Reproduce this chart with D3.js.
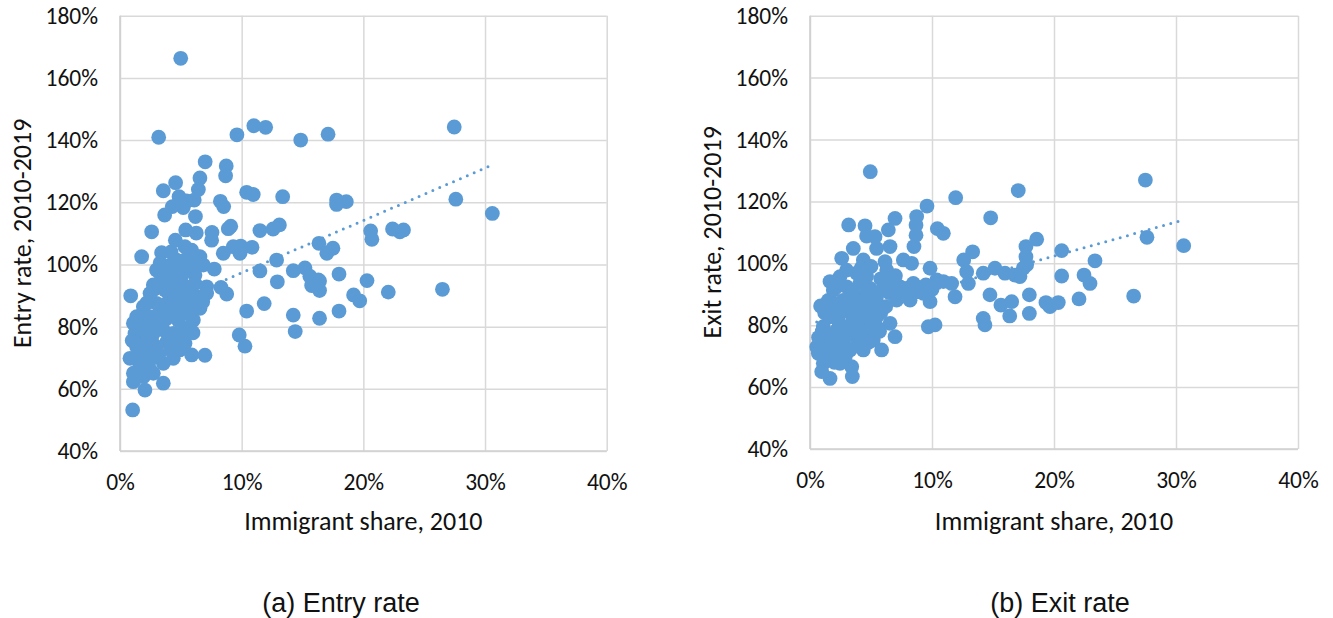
<!DOCTYPE html>
<html>
<head>
<meta charset="utf-8">
<script src="https://cdn.jsdelivr.net/npm/d3@7"></script>
<style>
  body { margin: 0; background: #fff; }
  svg { display: block; }
  .tick text { font-family: Carlito, Calibri, Lato, sans-serif; font-size: 23.5px; fill: #111; }
  .title { font-family: Carlito, Calibri, Lato, sans-serif; font-size: 26px; fill: #111; }
  .caption { font-family: "Liberation Sans", Arial, sans-serif; font-size: 27px; fill: #111; }
</style>
</head>
<body>
<div id="chart"></div>
<script>
// x ticks and y ticks (percent)
const xTicks = [0, 10, 20, 30, 40];
const yTicks = [40, 60, 80, 100, 120, 140, 160, 180];

// (a) entry rate vs immigrant share
const entryShare = [4.99, 3.18, 9.61, 11.0, 11.97, 14.85, 17.1, 27.47, 7.0, 8.73, 8.68, 6.57, 4.57, 3.56, 6.44,
  4.85, 5.48, 6.1, 4.3, 5.2, 8.25, 8.52, 10.41, 10.95, 13.37, 3.67, 6.2, 2.6, 5.4, 6.27, 7.56, 7.53, 8.9, 9.1,
  11.5, 12.58, 13.1, 4.55, 17.8, 17.8, 18.6, 27.6, 30.6, 20.6, 20.7, 22.4, 23.0, 23.3, 16.35, 17.5, 17.0, 15.2,
  15.6, 16.3, 15.75, 16.4, 18.0, 20.3, 22.05, 26.5, 19.2, 19.7, 18.0, 16.4, 14.4, 9.31, 9.92, 9.86, 10.85, 8.49,
  6.57, 12.87, 11.5, 7.75, 12.93, 14.24, 16.4, 14.24, 10.41, 11.85, 9.8, 10.27, 6.98, 8.3, 8.77, 6.57, 7.12,
  5.89, 5.34, 5.89, 6.35, 6.85, 3.0, 4.11, 4.66, 5.34, 5.75, 4.52, 5.2, 6.16, 3.97, 2.74, 3.29, 2.47, 3.7, 4.66,
  5.48, 6.16, 7.12, 6.57, 5.89, 0.88, 1.78, 3.42, 1.92, 3.0, 3.97, 4.93, 5.89, 6.57, 4.11, 5.2, 6.03, 3.29, 2.47,
  1.92, 1.37, 1.1, 1.23, 1.92, 2.74, 3.56, 4.38, 5.2, 5.75, 3.84, 4.66, 5.34, 3.0, 2.19, 1.37, 0.82, 1.64, 2.47,
  3.56, 4.38, 1.1, 1.92, 2.74, 3.56, 2.05, 1.1, 1.04, 2.2, 3.4, 4.8, 2.8, 1.6, 4.0, 5.0, 3.6, 5.5, 4.3, 2.6, 1.5,
  3.2, 4.2, 2.4, 2.3, 3.3, 4.5, 3.8, 2.1, 1.0, 5.0, 5.7, 6.8, 3.3, 4.2, 2.8, 6.0, 4.9, 1.6];
const entryRate = [166.3, 140.9, 141.7, 144.6, 144.1, 140.0, 141.9, 144.2, 133.0, 131.7, 128.5, 127.8, 126.3, 123.7,
  124.1, 121.8, 120.4, 120.7, 118.6, 118.3, 120.3, 118.6, 123.2, 122.5, 121.8, 115.9, 115.4, 110.5, 111.1, 110.1,
  110.3, 107.8, 111.5, 112.3, 110.9, 111.4, 112.7, 107.8, 120.7, 119.3, 120.2, 121.0, 116.4, 110.8, 108.1, 111.4,
  110.5, 111.1, 106.8, 105.2, 103.6, 98.9, 96.2, 95.0, 93.2, 91.6, 96.9, 94.8, 91.1, 92.0, 90.2, 88.3, 85.0, 82.7,
  78.4, 105.7, 105.9, 103.6, 105.5, 103.6, 102.5, 101.4, 97.9, 98.5, 94.4, 98.0, 94.7, 83.7, 85.0, 87.4, 77.3,
  73.7, 70.8, 92.6, 90.5, 86.4, 92.8, 70.9, 105.7, 104.6, 102.5, 99.8, 98.2, 99.8, 101.4, 101.4, 99.3, 97.1, 97.7,
  96.6, 95.0, 93.4, 94.4, 90.7, 91.8, 92.8, 92.8, 93.9, 90.7, 89.6, 90.7, 89.9, 102.5, 103.8, 86.4, 87.5, 88.0,
  87.5, 86.9, 85.9, 84.3, 84.3, 82.1, 84.3, 83.2, 82.1, 83.2, 81.1, 77.8, 76.8, 77.8, 78.9, 77.8, 78.4, 80.0, 75.1,
  74.6, 74.6, 73.5, 72.5, 73.5, 69.8, 68.2, 69.3, 68.2, 69.8, 65.0, 63.9, 65.0, 61.8, 59.6, 62.3, 53.2, 87.6, 80.5,
  82.0, 80.8, 79.8, 91.0, 95.5, 97.5, 88.8, 86.0, 75.5, 71.0, 71.2, 72.5, 66.5, 79.5, 86.0, 89.5, 82.5, 75.0, 75.5,
  91.5, 84.6, 88.0, 100.5, 104.0, 92.0, 78.0, 72.5, 66.5];
const entryTrend = [[0.8, 81.8], [30.6, 132.0]];

// (b) exit rate vs immigrant share
const exitShare = [4.94, 11.94, 17.07, 9.59, 3.17, 4.51, 4.64, 5.33, 6.42, 6.97, 8.74, 8.69, 8.69, 8.52, 10.44,
  10.93, 14.81, 3.55, 6.56, 5.46, 13.33, 0.87, 1.64, 2.6, 6.15, 6.29, 7.65, 8.33, 9.84, 12.6, 12.84, 12.98, 14.2,
  15.16, 15.98, 16.8, 14.75, 15.65, 16.53, 16.37, 14.2, 14.34, 9.7, 10.25, 9.84, 11.89, 11.61, 10.93, 8.2, 7.1,
  6.56, 6.97, 5.87, 4.37, 3.42, 3.47, 1.64, 0.96, 1.09, 0.55, 0.68, 1.09, 1.64, 2.46, 3.28, 4.1, 4.92, 5.46, 2.19,
  3.01, 3.83, 4.64, 5.46, 1.64, 2.73, 3.83, 4.92, 2.19, 3.28, 4.37, 1.09, 5.19, 1.37, 2.46, 1.91, 3.01, 4.1, 4.92,
  2.46, 3.83, 4.64, 3.28, 4.37, 5.46, 1.91, 6.29, 7.1, 7.93, 8.74, 9.29, 10.39, 4.37, 17.21, 17.76, 17.7, 17.7,
  18.58, 20.63, 20.63, 17.98, 17.98, 19.34, 19.67, 20.35, 7.38, 8.47, 27.49, 17.48, 23.36, 27.62, 30.63, 22.46,
  22.95, 26.53, 22.05, 6.0, 6.8, 7.6, 8.9, 9.5, 10.0, 7.0, 5.8, 6.5, 1.2, 1.5, 2.0, 2.7, 2.2, 3.5, 3.0, 4.2, 5.0,
  3.9, 4.6, 5.3, 5.8, 2.4, 3.5, 4.4, 1.0, 1.9, 2.9, 4.0, 5.0, 5.7, 2.5, 3.8, 1.5, 2.9, 2.0, 4.8, 6.2, 0.7];
const exitRate = [129.6, 121.2, 123.5, 118.5, 112.4, 112.1, 108.8, 108.6, 110.8, 114.5, 115.1, 112.4, 109.1, 105.4,
  111.2, 109.7, 114.7, 104.8, 105.4, 104.8, 103.7, 86.2, 94.1, 101.6, 100.5, 97.8, 101.1, 100.0, 98.4, 101.1, 97.3,
  93.5, 96.8, 98.4, 96.8, 96.2, 89.8, 86.5, 87.6, 83.0, 82.2, 80.1, 79.5, 80.1, 87.6, 89.2, 93.5, 94.1, 88.1, 88.1,
  80.6, 76.3, 72.0, 72.0, 66.6, 63.4, 62.8, 65.0, 67.7, 73.0, 70.9, 79.5, 82.7, 83.8, 84.9, 86.0, 84.9, 82.7, 78.4,
  79.5, 80.6, 80.6, 79.5, 75.2, 75.2, 76.3, 77.4, 70.9, 72.0, 74.2, 76.3, 75.2, 69.8, 67.7, 91.4, 92.4, 93.5, 91.9,
  95.7, 96.8, 95.7, 89.2, 89.2, 89.2, 87.1, 94.6, 93.0, 91.9, 90.8, 90.3, 94.6, 101.1, 95.7, 99.5, 102.1, 105.4,
  107.8, 104.1, 95.9, 89.8, 83.8, 87.3, 86.0, 87.3, 92.4, 93.5, 126.9, 98.4, 100.8, 108.4, 105.7, 96.2, 93.5, 89.4,
  88.5, 92.0, 93.5, 90.5, 92.2, 93.0, 91.5, 96.0, 95.0, 90.5, 84.0, 88.0, 86.0, 88.0, 92.5, 90.5, 97.8, 98.5, 99.0,
  87.5, 88.5, 86.5, 84.0, 80.5, 82.5, 83.5, 78.0, 77.0, 76.5, 79.0, 81.5, 78.0, 73.5, 73.5, 72.5, 70.0, 68.0, 74.5,
  86.0, 76.0];
const exitTrend = [[0.55, 81.0], [30.63, 114.0]];

const W = 1333, H = 618;
const blue = '#5b9bd5';
const grid = '#d9d9d9';

const panels = [
  { xs: entryShare, ys: entryRate, trend: entryTrend, yTitle: 'Entry rate, 2010-2019', caption: '(a) Entry rate',
    left: 120, right: 606.7, top: 15.7, bottom: 451, capX: 341 },
  { xs: exitShare, ys: exitRate, trend: exitTrend, yTitle: 'Exit rate, 2010-2019', caption: '(b) Exit rate',
    left: 810, right: 1298, top: 15.7, bottom: 449, capX: 1060 }
];

const svg = d3.select('#chart').append('svg')
  .attr('width', W)
  .attr('height', H);

panels.forEach(p => {
  const x = d3.scaleLinear().domain([0, 40]).range([p.left, p.right]);
  const y = d3.scaleLinear().domain([40, 180]).range([p.bottom, p.top]);
  const g = svg.append('g');

  // gridlines + labels
  const yAxis = g.append('g')
    .attr('transform', `translate(${p.left},0)`)
    .call(d3.axisLeft(y).tickValues(yTicks).tickSize(-(p.right - p.left)).tickPadding(22).tickFormat(d => d + '%'));
  const xAxis = g.append('g')
    .attr('transform', `translate(0,${p.bottom})`)
    .call(d3.axisBottom(x).tickValues(xTicks).tickSize(-(p.bottom - p.top)).tickPadding(31).tickFormat(d => d + '%'));
  [yAxis, xAxis].forEach(a => {
    a.select('.domain').remove();
    a.selectAll('.tick line').attr('stroke', grid).attr('stroke-width', 1.5);
  });
  xAxis.selectAll('.tick text').attr('dy', '0.35em');

  // axis lines slightly darker
  g.append('line').attr('x1', p.left).attr('x2', p.left).attr('y1', p.top).attr('y2', p.bottom)
    .attr('stroke', '#d0d0d0').attr('stroke-width', 1.6);
  g.append('line').attr('x1', p.left).attr('x2', p.right).attr('y1', p.bottom).attr('y2', p.bottom)
    .attr('stroke', '#d0d0d0').attr('stroke-width', 1.6);

  // trend line (behind markers)
  g.append('path')
    .datum(p.trend)
    .attr('d', d3.line().x(d => x(d[0])).y(d => y(d[1])))
    .attr('fill', 'none')
    .attr('stroke', blue)
    .attr('stroke-width', 3)
    .attr('stroke-linecap', 'round')
    .attr('stroke-dasharray', '0 7.5');

  // markers
  g.append('g').selectAll('circle')
    .data(d3.range(p.xs.length))
    .join('circle')
    .attr('cx', i => x(p.xs[i]))
    .attr('cy', i => y(p.ys[i]))
    .attr('r', 7.4)
    .attr('fill', blue);

  // titles
  g.append('text')
    .attr('class', 'title')
    .attr('text-anchor', 'middle')
    .attr('transform', `translate(${p.left - 89},${(p.top + p.bottom) / 2}) rotate(-90)`)
    .text(p.yTitle);
  g.append('text')
    .attr('class', 'title')
    .attr('text-anchor', 'middle')
    .attr('x', (p.left + p.right) / 2)
    .attr('y', 530)
    .text('Immigrant share, 2010');
  g.append('text')
    .attr('class', 'caption')
    .attr('text-anchor', 'middle')
    .attr('x', p.capX)
    .attr('y', 612)
    .text(p.caption);
});
</script>
</body>
</html>
